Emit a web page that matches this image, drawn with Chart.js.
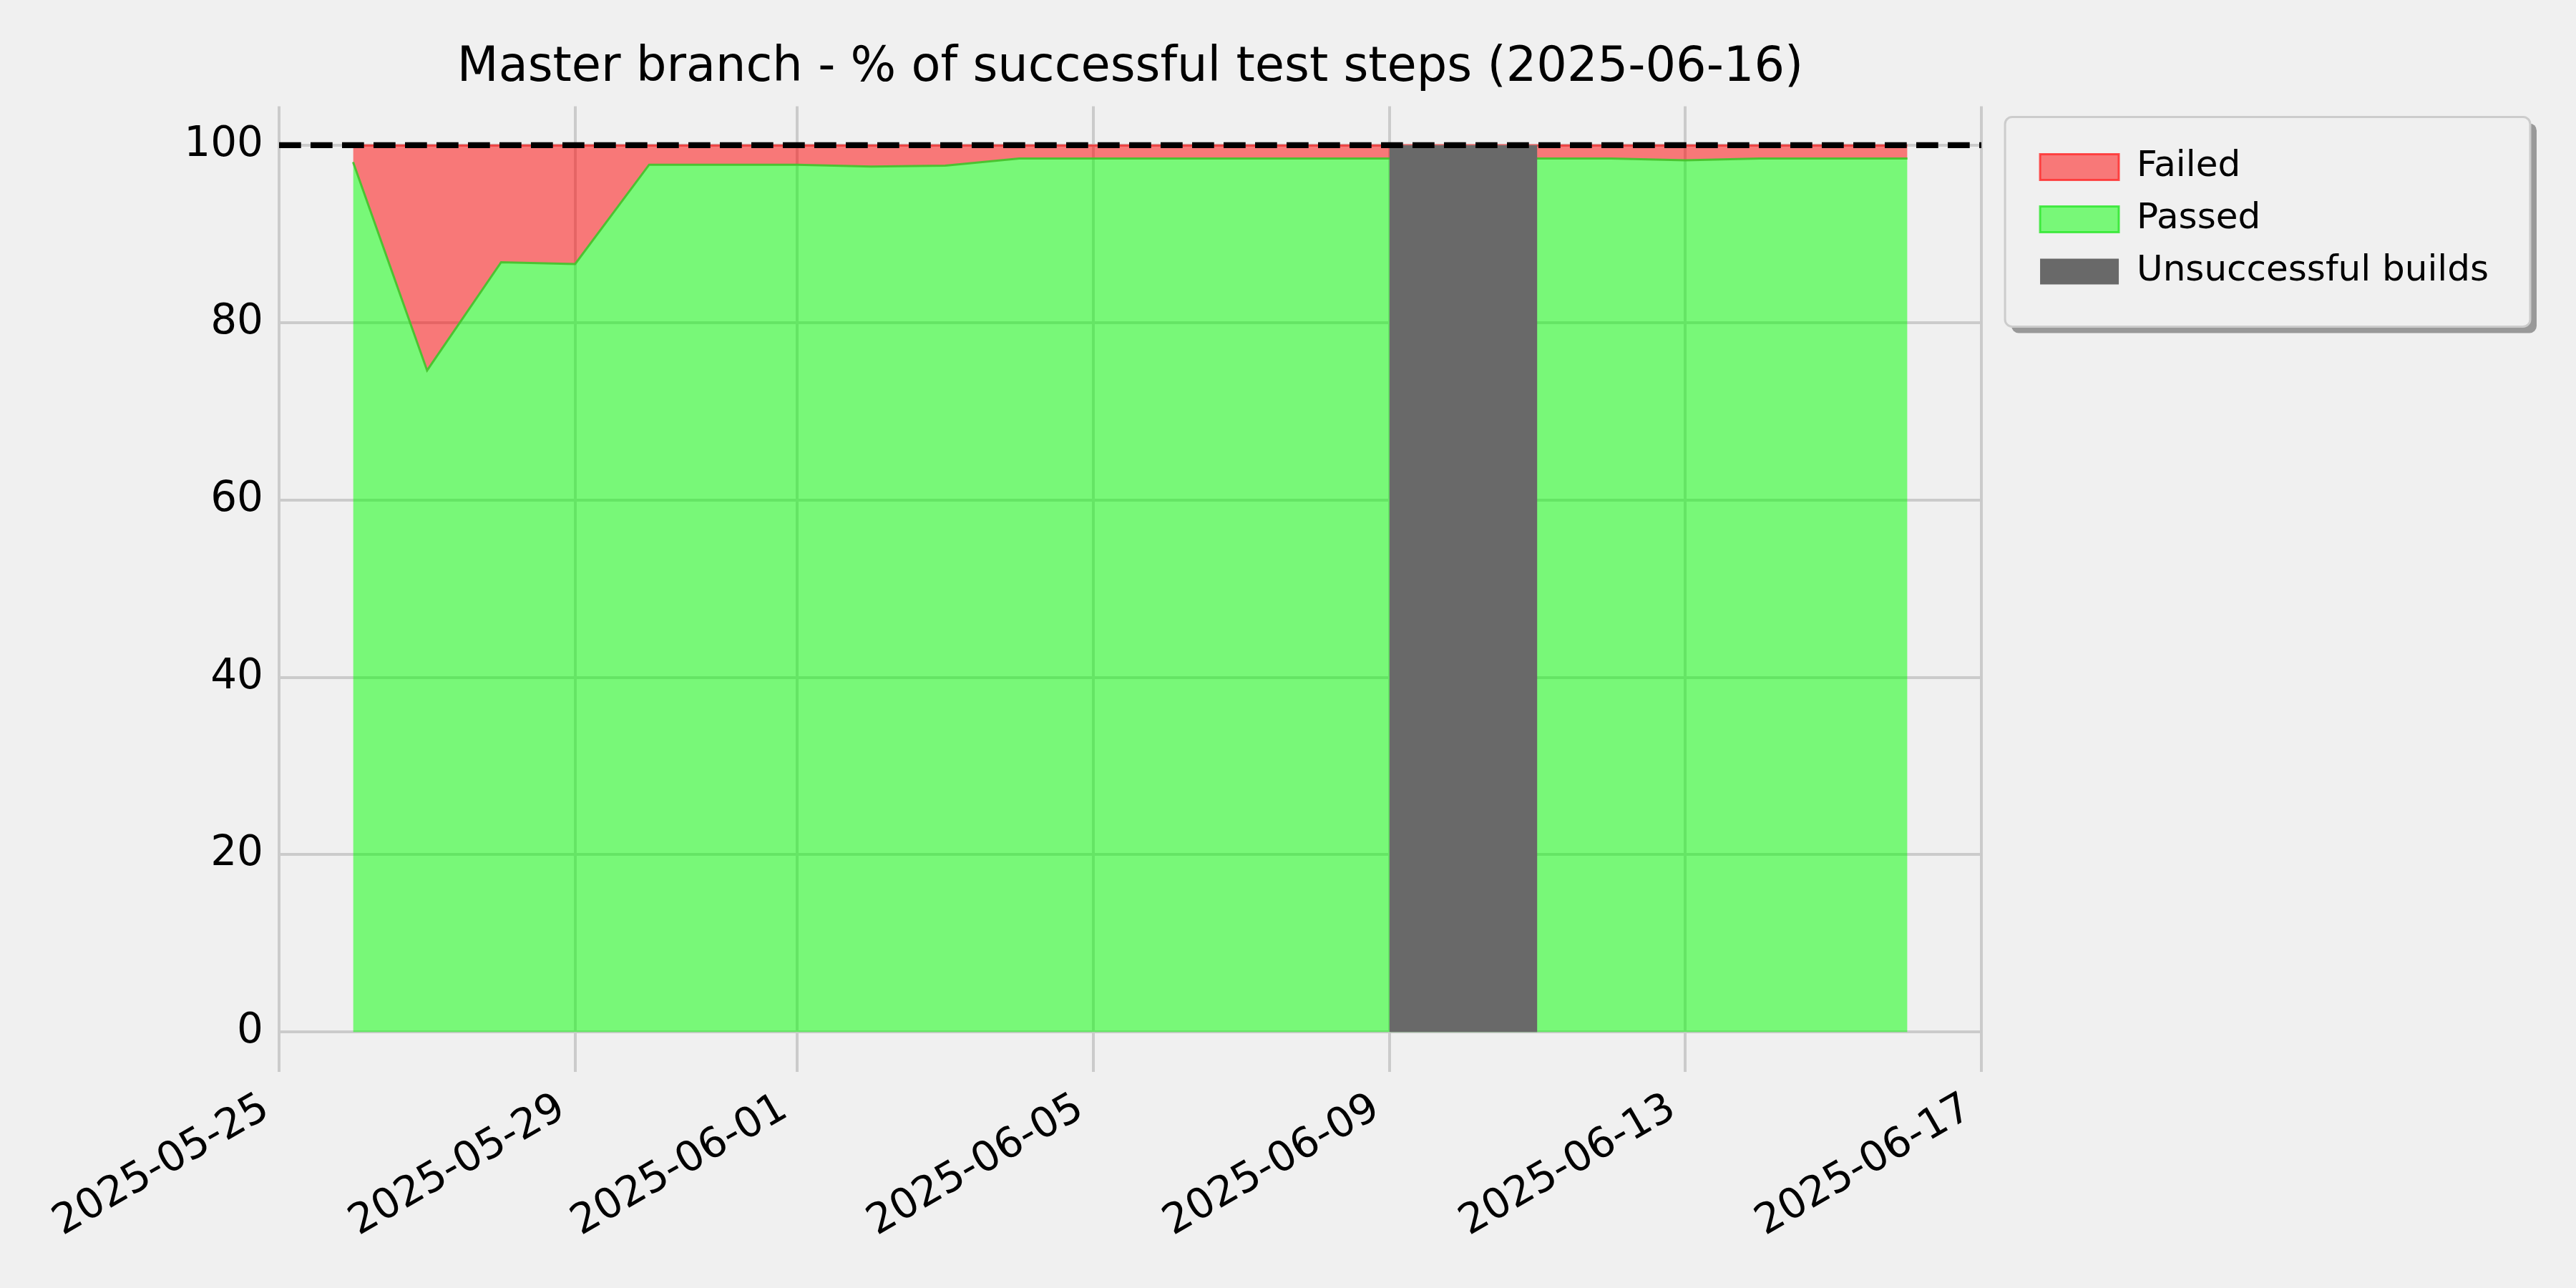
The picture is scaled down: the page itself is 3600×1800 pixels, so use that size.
<!DOCTYPE html>
<html>
<head>
<meta charset="utf-8">
<script src="https://cdn.jsdelivr.net/npm/chart.js@4.4.1/dist/chart.umd.min.js"></script>
<style>
  html, body { margin: 0; padding: 0; background: #f0f0f0; }
  #wrap { width: 3600px; height: 1800px; }
  canvas { display: block; }
</style>
</head>
<body>
<div id="wrap"><canvas id="c" width="3600" height="1800"></canvas></div>
<script>
// ---------------- data ----------------
const chartTitle = 'Master branch - % of successful test steps (2025-06-16)';
const xTickLabels = ['2025-05-25', '2025-05-29', '2025-06-01', '2025-06-05', '2025-06-09', '2025-06-13', '2025-06-17'];
const yTickValues = [0, 20, 40, 60, 80, 100];
const runDates = [
  '2025-05-26', '2025-05-27', '2025-05-28', '2025-05-29', '2025-05-30',
  '2025-05-31', '2025-06-01', '2025-06-02', '2025-06-03', '2025-06-04',
  '2025-06-05', '2025-06-06', '2025-06-07', '2025-06-08', '2025-06-09',
  '2025-06-11', '2025-06-12', '2025-06-13', '2025-06-14', '2025-06-15',
  '2025-06-16'
];
const passedPct = [98.1, 74.6, 86.8, 86.6, 97.8, 97.8, 97.8, 97.6, 97.7, 98.5, 98.5, 98.5, 98.5, 98.5, 98.5,
                   98.5, 98.5, 98.3, 98.5, 98.5, 98.5];
const failedPct = [1.9, 25.4, 13.2, 13.4, 2.2, 2.2, 2.2, 2.4, 2.3, 1.5, 1.5, 1.5, 1.5, 1.5, 1.5,
                   1.5, 1.5, 1.7, 1.5, 1.5, 1.5];
const unsuccessfulDates = ['2025-06-09', '2025-06-11'];
const unsuccessfulPct = [100, 100];
const targetDates = ['2025-05-25', '2025-06-17'];
const targetPct = [100, 100];
const seriesNames = ['Failed', 'Passed', 'Unsuccessful builds', 'Target'];

// ---------------- helpers ----------------
const t = s => Date.parse(s);
const FONT = "'DejaVu Sans', 'Liberation Sans', sans-serif";
const GAP_AXIS = 59;

const passedData = runDates.map((d, i) => ({ x: t(d), y: passedPct[i] }));
const failedTopData = runDates.map((d, i) => ({ x: t(d), y: passedPct[i] + failedPct[i] }));
const unsuccessfulData = unsuccessfulDates.map((d, i) => ({ x: t(d), y: unsuccessfulPct[i] }));
const targetData = targetDates.map((d, i) => ({ x: t(d), y: targetPct[i] }));

const legendStyle = [
  { fillStyle: 'rgba(255,0,0,0.5)', strokeStyle: 'rgba(255,40,40,0.8)', lineWidth: 3 },
  { fillStyle: 'rgba(0,255,0,0.5)', strokeStyle: 'rgba(40,230,40,0.8)', lineWidth: 3 },
  { fillStyle: '#696969', strokeStyle: '#696969', lineWidth: 0 }
];

const bgPlugin = {
  id: 'bg',
  beforeDraw(chart) {
    const ctx = chart.ctx;
    ctx.save();
    ctx.fillStyle = '#f0f0f0';
    ctx.fillRect(0, 0, chart.width, chart.height);
    // legend frame with shadow
    const lg = chart.legend;
    if (lg && lg.legendHitBoxes && lg.legendHitBoxes.length) {
      const hb = lg.legendHitBoxes;
      const first = hb[0], last = hb[hb.length - 1];
      let right = 0;
      hb.forEach(h => { right = Math.max(right, h.left + h.width); });
      const x0 = first.left - 49, y0 = first.top - 45;
      const x1 = right + 58, y1 = last.top + last.height + 52;
      const r = 10;
      const rr = (x, y, w, h) => {
        ctx.beginPath();
        ctx.moveTo(x + r, y);
        ctx.arcTo(x + w, y, x + w, y + h, r);
        ctx.arcTo(x + w, y + h, x, y + h, r);
        ctx.arcTo(x, y + h, x, y, r);
        ctx.arcTo(x, y, x + w, y, r);
        ctx.closePath();
      };
      ctx.fillStyle = '#999999';
      rr(x0 + 9, y0 + 9, x1 - x0, y1 - y0);
      ctx.fill();
      ctx.fillStyle = '#f0f0f0';
      rr(x0, y0, x1 - x0, y1 - y0);
      ctx.fill();
      ctx.strokeStyle = '#cccccc';
      ctx.lineWidth = 3;
      ctx.stroke();
    }
    ctx.restore();
  }
};

Chart.defaults.font.family = FONT;
Chart.defaults.color = '#000000';

new Chart(document.getElementById('c'), {
  type: 'line',
  data: {
    datasets: [
      {
        label: seriesNames[0],
        data: failedTopData,
        order: 3,
        fill: '+1',
        backgroundColor: 'rgba(255,0,0,0.5)',
        borderColor: 'rgba(255,0,0,0.5)',
        borderWidth: 3,
        pointRadius: 0,
        tension: 0
      },
      {
        label: seriesNames[1],
        data: passedData,
        order: 2,
        fill: 'origin',
        backgroundColor: 'rgba(0,255,0,0.5)',
        borderColor: 'rgba(70,195,45,0.95)',
        borderWidth: 3,
        pointRadius: 0,
        tension: 0
      },
      {
        label: seriesNames[2],
        data: unsuccessfulData,
        order: 1,
        fill: 'origin',
        backgroundColor: '#696969',
        borderWidth: 0,
        pointRadius: 0,
        tension: 0
      },
      {
        label: seriesNames[3],
        data: targetData,
        order: 0,
        fill: false,
        borderColor: '#000000',
        borderWidth: 8.3,
        borderDash: [30.7, 13.3],
        pointRadius: 0,
        tension: 0
      }
    ]
  },
  options: {
    responsive: false,
    maintainAspectRatio: false,
    devicePixelRatio: 1,
    animation: false,
    layout: { padding: { left: 0, right: 112, top: 0, bottom: 0 } },
    plugins: {
      tooltip: { enabled: false },
      title: {
        display: true,
        text: chartTitle,
        fullSize: false,
        color: '#000000',
        font: { family: FONT, size: 67, weight: 'normal', lineHeight: 1.2 },
        padding: { top: 55, bottom: 13 }
      },
      legend: {
        display: true,
        position: 'right',
        align: 'start',
        fullSize: false,
        title: { display: true, text: '', font: { size: 37, lineHeight: 1 }, padding: 0 },
        labels: {
          color: '#000000',
          font: { family: FONT, size: 50 },
          boxWidth: 110,
          boxHeight: 36,
          padding: 23,
          filter: item => item.datasetIndex < 3,
          sort: (a, b) => a.datasetIndex - b.datasetIndex,
          generateLabels: chart => {
            const items = Chart.defaults.plugins.legend.labels.generateLabels(chart);
            return items.map(it => Object.assign(it, legendStyle[it.datasetIndex] || {}, { lineDash: [], lineDashOffset: 0 }));
          }
        }
      }
    },
    scales: {
      x: {
        type: 'linear',
        min: t(xTickLabels[0]),
        max: t(xTickLabels[xTickLabels.length - 1]),
        afterBuildTicks: s => { s.ticks = xTickLabels.map(d => ({ value: t(d) })); },
        afterFit: s => { s.height = 302; },
        grid: { color: '#cbcbcb', lineWidth: 4, drawTicks: false },
        border: { display: false },
        ticks: {
          autoSkip: false,
          minRotation: 30,
          maxRotation: 30,
          padding: 17,
          labelOffset: -18,
          color: '#000000',
          font: { family: FONT, size: 58 },
          callback: (v, i) => xTickLabels[i]
        }
      },
      y: {
        type: 'linear',
        min: -4.5,
        max: 104.4,
        afterBuildTicks: s => { s.ticks = yTickValues.map(v => ({ value: v })); },
        afterFit: s => { s.width = 390; },
        grid: { color: '#cbcbcb', lineWidth: 4, drawTicks: false },
        border: { display: false },
        ticks: {
          padding: 22,
          color: '#000000',
          font: { family: FONT, size: 58 },
          callback: v => String(v)
        }
      },
      gap: {
        type: 'linear',
        position: 'right',
        display: false,
        afterFit: s => { s.width = GAP_AXIS; }
      }
    }
  },
  plugins: [bgPlugin]
});
</script>
</body>
</html>
